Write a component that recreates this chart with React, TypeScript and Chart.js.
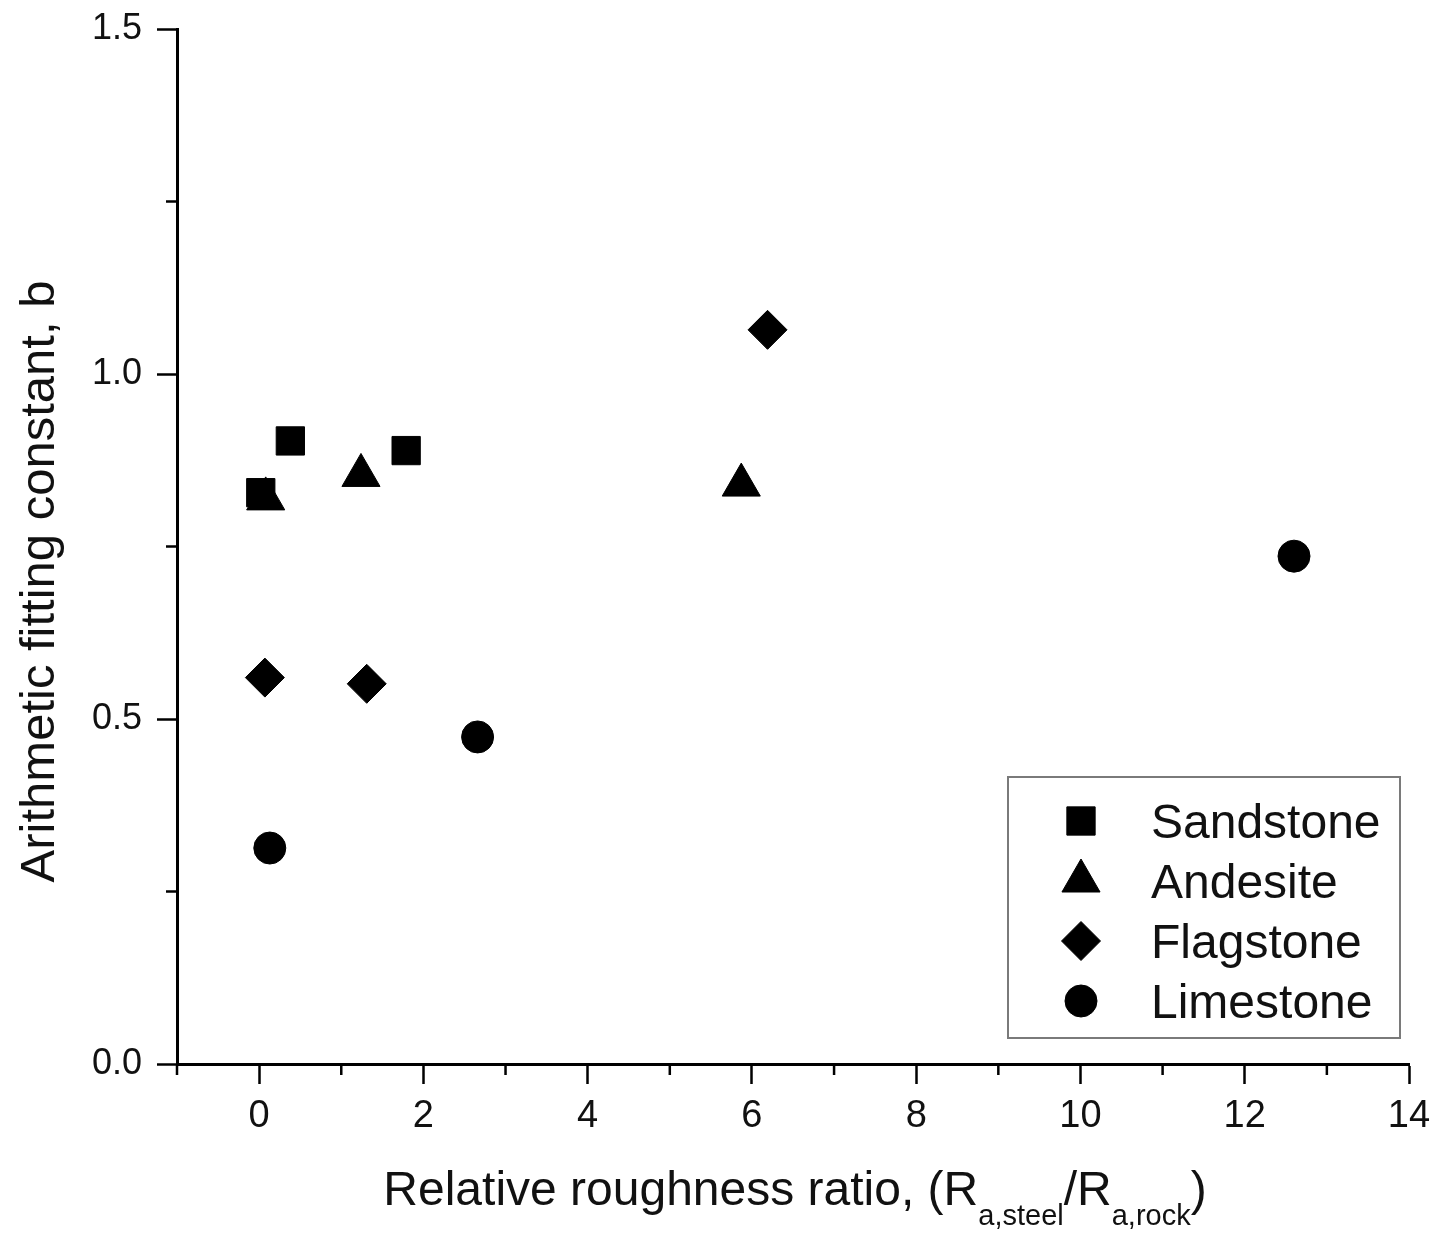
import React, { useEffect, useRef } from 'react';
import { Chart, registerables } from 'chart.js';
import { drawPoint } from 'chart.js/helpers';

Chart.register(...registerables);

const FONT = "'Liberation Sans', Arial, sans-serif";

// ---- data ----
const seriesNames = ['Sandstone', 'Andesite', 'Flagstone', 'Limestone'];
const sandstoneX = [0.02, 0.38, 1.79];
const sandstoneY = [0.828, 0.903, 0.889];
const andesiteX = [0.08, 1.24, 5.87];
const andesiteY = [0.819, 0.853, 0.839];
const flagstoneX = [0.07, 1.31, 6.19];
const flagstoneY = [0.56, 0.551, 1.064];
const limestoneX = [0.13, 2.66, 12.6];
const limestoneY = [0.313, 0.474, 0.736];

const xMajorTicks = [0, 2, 4, 6, 8, 10, 12, 14];
const xMinorTicks = [-1, 1, 3, 5, 7, 9, 11, 13];
const yMajorTicks = [0, 0.5, 1.0, 1.5];
const yTickLabels = ['0.0', '0.5', '1.0', '1.5'];
const yMinorTicks = [0.25, 0.75, 1.25];

const xTitleMain = 'Relative roughness ratio, (R';
const xTitleSub1 = 'a,steel';
const xTitleMid = '/R';
const xTitleSub2 = 'a,rock';
const xTitleEnd = ')';
const yTitle = 'Arithmetic fitting constant, b';

const toPoints = (xs: number[], ys: number[]) => xs.map((x, i) => ({ x, y: ys[i] }));

const minorTicksPlugin = {
  id: 'minorTicks',
  afterDraw(chart: any) {
    const { ctx, chartArea, scales } = chart;
    ctx.save();
    ctx.strokeStyle = '#000';
    ctx.lineWidth = 2.5;
    ctx.beginPath();
    xMinorTicks.forEach((v) => {
      const px = scales.x.getPixelForValue(v);
      ctx.moveTo(px, chartArea.bottom);
      ctx.lineTo(px, chartArea.bottom + 11);
    });
    yMinorTicks.forEach((v) => {
      const py = scales.y.getPixelForValue(v);
      ctx.moveTo(chartArea.left, py);
      ctx.lineTo(chartArea.left - 11, py);
    });
    ctx.stroke();
    ctx.restore();
  },
};

const titlesPlugin = {
  id: 'titles',
  afterDraw(chart: any) {
    const { ctx, chartArea } = chart;
    ctx.save();
    ctx.fillStyle = '#111';
    // x title with subscripts
    const big = `48px ${FONT}`;
    const small = `29px ${FONT}`;
    const parts: [string, string, number][] = [
      [xTitleMain, big, 0],
      [xTitleSub1, small, 20],
      [xTitleMid, big, 0],
      [xTitleSub2, small, 20],
      [xTitleEnd, big, 0],
    ];
    let total = 0;
    const widths = parts.map(([t, f]) => {
      ctx.font = f;
      const w = ctx.measureText(t).width;
      total += w;
      return w;
    });
    let x = (chartArea.left + chartArea.right) / 2 - total / 2 + 2;
    const baseY = chartArea.bottom + 141;
    ctx.textAlign = 'left';
    ctx.textBaseline = 'alphabetic';
    parts.forEach(([t, f, dy], i) => {
      ctx.font = f;
      ctx.fillText(t, x, baseY + dy);
      x += widths[i];
    });
    // y title
    ctx.font = `49px ${FONT}`;
    ctx.translate(54, (chartArea.top + chartArea.bottom) / 2 + 35);
    ctx.rotate(-Math.PI / 2);
    ctx.textAlign = 'center';
    ctx.fillText(yTitle, 0, 0);
    ctx.restore();
  },
};

const legendPlugin = {
  id: 'boxLegend',
  afterDraw(chart: any) {
    const { ctx, chartArea } = chart;
    const right = chartArea.right - 9;
    const bottom = chartArea.bottom - 26;
    const left = right - 392;
    const top = bottom - 261;
    ctx.save();
    ctx.strokeStyle = '#7a7a7a';
    ctx.lineWidth = 2;
    ctx.strokeRect(left, top, right - left, bottom - top);
    chart.data.datasets.forEach((ds: any, i: number) => {
      const cy = top + 44 + i * 60;
      ctx.fillStyle = '#000';
      ctx.strokeStyle = '#000';
      ctx.lineWidth = 1;
      drawPoint(ctx, { pointStyle: ds.pointStyle, radius: ds.pointRadius, rotation: 0, borderWidth: 1 }, left + 73, cy);
      ctx.fillStyle = '#111';
      ctx.font = `48px ${FONT}`;
      ctx.textAlign = 'left';
      ctx.textBaseline = 'alphabetic';
      ctx.fillText(ds.label, left + 143, cy + 17);
    });
    ctx.restore();
  },
};

export default function App() {
  const ref = useRef<HTMLCanvasElement | null>(null);
  useEffect(() => {
    document.body.style.margin = '0';
    if (!ref.current) return;
    const common = { backgroundColor: '#000', borderColor: '#000', borderWidth: 1, showLine: false };
    const chart = new Chart(ref.current, {
      type: 'scatter',
      data: {
        datasets: [
          { ...common, label: seriesNames[0], data: toPoints(sandstoneX, sandstoneY), pointStyle: 'rect', pointRadius: 20 },
          { ...common, label: seriesNames[1], data: toPoints(andesiteX, andesiteY), pointStyle: 'triangle', pointRadius: 22 },
          { ...common, label: seriesNames[2], data: toPoints(flagstoneX, flagstoneY), pointStyle: 'rectRot', pointRadius: 19.5 },
          { ...common, label: seriesNames[3], data: toPoints(limestoneX, limestoneY), pointStyle: 'circle', pointRadius: 16 },
        ] as any,
      },
      options: {
        responsive: false,
        animation: false,
        events: [],
        layout: { padding: { top: 29, right: 26, left: 0, bottom: 0 } },
        plugins: { legend: { display: false }, tooltip: { enabled: false } },
        scales: {
          x: {
            type: 'linear',
            min: -1,
            max: 14,
            afterBuildTicks: (scale: any) => {
              scale.ticks = xMajorTicks.map((value) => ({ value }));
            },
            afterFit: (scale: any) => {
              scale.height = 172;
              scale.paddingLeft = 0;
              scale.paddingRight = 0;
            },
            ticks: {
              color: '#111',
              font: { family: FONT, size: 38 },
              padding: 10,
              maxRotation: 0,
              autoSkip: false,
              callback: (v: any) => String(v),
            },
            grid: { drawOnChartArea: false, drawTicks: true, tickLength: 20, tickWidth: 2.5, tickColor: '#000' },
            border: { display: true, color: '#000', width: 3 },
          },
          y: {
            type: 'linear',
            min: 0,
            max: 1.5,
            afterBuildTicks: (scale: any) => {
              scale.ticks = yMajorTicks.map((value) => ({ value }));
            },
            afterFit: (scale: any) => {
              scale.width = 177;
              scale.paddingTop = 0;
              scale.paddingBottom = 0;
            },
            ticks: {
              color: '#111',
              font: { family: FONT, size: 36 },
              padding: 15,
              autoSkip: false,
              callback: (v: any) => yTickLabels[yMajorTicks.indexOf(Number(v))] ?? String(v),
            },
            grid: { drawOnChartArea: false, drawTicks: true, tickLength: 20, tickWidth: 2.5, tickColor: '#000' },
            border: { display: true, color: '#000', width: 3 },
          },
        },
      } as any,
      plugins: [minorTicksPlugin, titlesPlugin, legendPlugin],
    });
    return () => chart.destroy();
  }, []);
  return (
    <div style={{ width: 1435, height: 1236, background: '#fff' }}>
      <canvas ref={ref} width={1435} height={1236} style={{ display: 'block' }} />
    </div>
  );
}
